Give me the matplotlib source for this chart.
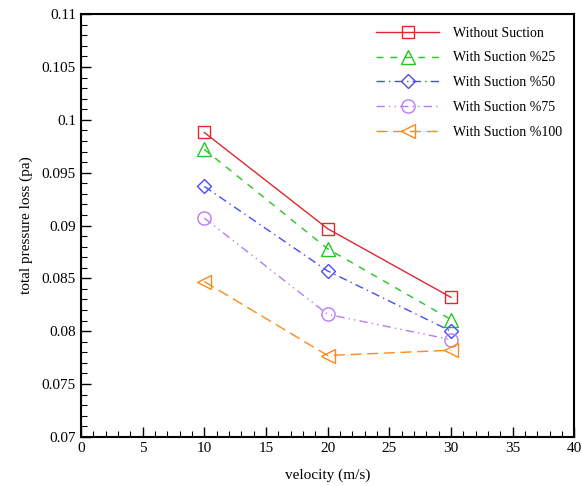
import matplotlib
matplotlib.use("Agg")
import matplotlib.pyplot as plt
from matplotlib.ticker import MultipleLocator

velocity = [10, 20, 30]
without_suction = [0.0988, 0.0897, 0.0832]
suction_25 = [0.0972, 0.0878, 0.0811]
suction_50 = [0.0937, 0.0857, 0.0800]
suction_75 = [0.0907, 0.0816, 0.0792]
suction_100 = [0.0847, 0.0777, 0.0782]

labels = ["Without Suction", "With Suction %25", "With Suction %50",
          "With Suction %75", "With Suction %100"]

plt.rcParams["font.family"] = ["Liberation Serif", "DejaVu Serif"]

fig = plt.figure(figsize=(5.82, 4.86), dpi=100)
ax = fig.add_axes([0.139, 0.101, 0.848, 0.870])

styles = [
    dict(color="#e0262e", linestyle="-", marker="s", ms=8.5),
    dict(color="#22c722", linestyle=(0, (5, 5)), marker="^", ms=9.5),
    dict(color="#4a4cf5", linestyle=(0, (6, 3, 1, 3)), marker="D", ms=7.5),
    dict(color="#b57cf5", linestyle=(0, (6, 3, 1, 3, 1, 3)), marker="o", ms=9.5),
    dict(color="#ff8a1c", linestyle=(0, (8, 4)), marker="<", ms=9.5),
]
series = [without_suction, suction_25, suction_50, suction_75, suction_100]

for vals, lab, st in zip(series, labels, styles):
    ax.plot(velocity, vals, color=st["color"], linestyle=st["linestyle"],
            linewidth=1.0, marker=st["marker"], markersize=st["ms"],
            markerfacecolor="none", markeredgecolor=st["color"],
            markeredgewidth=1.0, label=lab)

ax.set_xlim(0, 40)
ax.set_ylim(0.07, 0.11)
ax.xaxis.set_major_locator(MultipleLocator(5))
ax.xaxis.set_minor_locator(MultipleLocator(1))
ax.yaxis.set_minor_locator(MultipleLocator(0.001))
ax.set_yticks([0.07, 0.075, 0.08, 0.085, 0.09, 0.095, 0.1, 0.105, 0.11])
ax.set_yticklabels(["0.07", "0.075", "0.08", "0.085", "0.09", "0.095", "0.1", "0.105", "0.11"])
ax.tick_params(which="major", direction="in", length=7, width=1, labelsize=11,
               top=False, right=False)
ax.tick_params(which="minor", direction="in", length=4, width=0.8,
               top=False, right=False)
for spine in ax.spines.values():
    spine.set_linewidth(1.5)

ax.set_xlabel("velocity (m/s)", fontsize=11, labelpad=10)
ax.set_ylabel("total pressure loss (pa)", fontsize=11, labelpad=6)

ax.legend(loc="upper right", frameon=False, fontsize=10, handlelength=4.5,
          labelspacing=0.85, borderaxespad=0.5, handletextpad=1.0)

fig.savefig("out.png", dpi=100)
